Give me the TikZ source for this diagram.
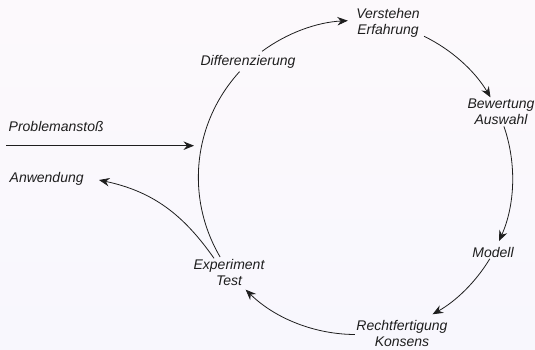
\documentclass[tikz,border=0pt]{standalone}
\usepackage{fontspec}
\setmainfont{Liberation Sans}
\usetikzlibrary{arrows.meta,calc}
\definecolor{bgtop}{RGB}{252,249,252}
\definecolor{bgbot}{RGB}{248,247,253}
\definecolor{ink}{RGB}{30,30,30}
\tikzset{
  lbl/.style={inner sep=0pt, text=ink, align=center,
    font=\fontsize{14}{16}\selectfont\itshape},
  arc/.style={draw=ink, line width=0.8pt},
  arr/.style={arc, -{Stealth[length=10.5pt,width=8.5pt,inset=3.5pt]}},
}
\begin{document}
\begin{tikzpicture}[x=1pt,y=1pt]
  % canvas
  \shade[top color=bgtop, bottom color=bgbot] (0,0) rectangle (535,349);
  \useasboundingbox (0,0) rectangle (535,349);

  % stations of the cycle
  \node[lbl] (verst)  at (388,326) {Verstehen\\Erfahrung};
  \node[lbl] (bew)    at (501,237) {Bewertung\\Auswahl};
  \node[lbl] (modell) at (493,97)  {Modell};
  \node[lbl] (recht)  at (402,15.5) {Rechtfertigung\\Konsens};
  \node[lbl] (exp)    at (229,77)  {Experiment\\Test};
  \node[lbl] (diff)   at (248,287) {Differenzierung};
  \node[lbl, anchor=base west] (prob) at (8.5,218) {Problemanstoß};
  \node[lbl, anchor=base west] (anw)  at (9.5,167) {Anwendung};

  % the cycle runs along one circle
  \coordinate (c) at (355.5,171.5);
  \def\R{157}
  \coordinate (d-out) at ($(c)+(126.5:\R)$);
  \coordinate (v-in)  at ($(c)+(92.8:\R)$);
  \coordinate (v-out) at ($(c)+(64.1:\R)$);
  \coordinate (b-in)  at ($(c)+(30.7:\R)$);
  \coordinate (b-out) at ($(c)+(19.0:\R)$);
  \coordinate (m-in)  at ($(c)+(-23.9:\R)$);
  \coordinate (m-out) at ($(c)+(-31.2:\R)$);
  \coordinate (r-in)  at ($(c)+(-60.6:\R)$);
  \coordinate (r-out) at ($(c)+(-90.2:\R)$);
  \coordinate (e-in)  at ($(c)+(-134.4:\R)$);
  \coordinate (e-out) at ($(c)+(-149.6:\R)$);
  \coordinate (d-in)  at ($(c)+(137.6:\R)$);

  \draw[arr] (d-out) to[bend left=16.85, looseness=0.87] (v-in);
  \draw[arr] (v-out) to[bend left=16.7, looseness=0.87] (b-in);
  \draw[arr] (b-out) to[bend left=21.45, looseness=0.88] (m-in);
  \draw[arr] (m-out) to[bend left=14.7, looseness=0.87] (r-in);
  \draw[arr] (r-out) to[bend left=22.1, looseness=0.88] (e-in);
  \draw[arc] (e-out) to[bend left=36.4, looseness=0.95] (d-in);

  % entry and exit of the cycle
  \coordinate (p-start) at (6,203.3);
  \coordinate (p-end)   at (194,203.3);
  \draw[arr] (p-start) -- (p-end);

  \coordinate (a-start) at (214,90.7);
  \coordinate (a-end)   at (99,169);
  \draw[arr] (a-start) to[out=125, in=-12] (a-end);
\end{tikzpicture}
\end{document}
